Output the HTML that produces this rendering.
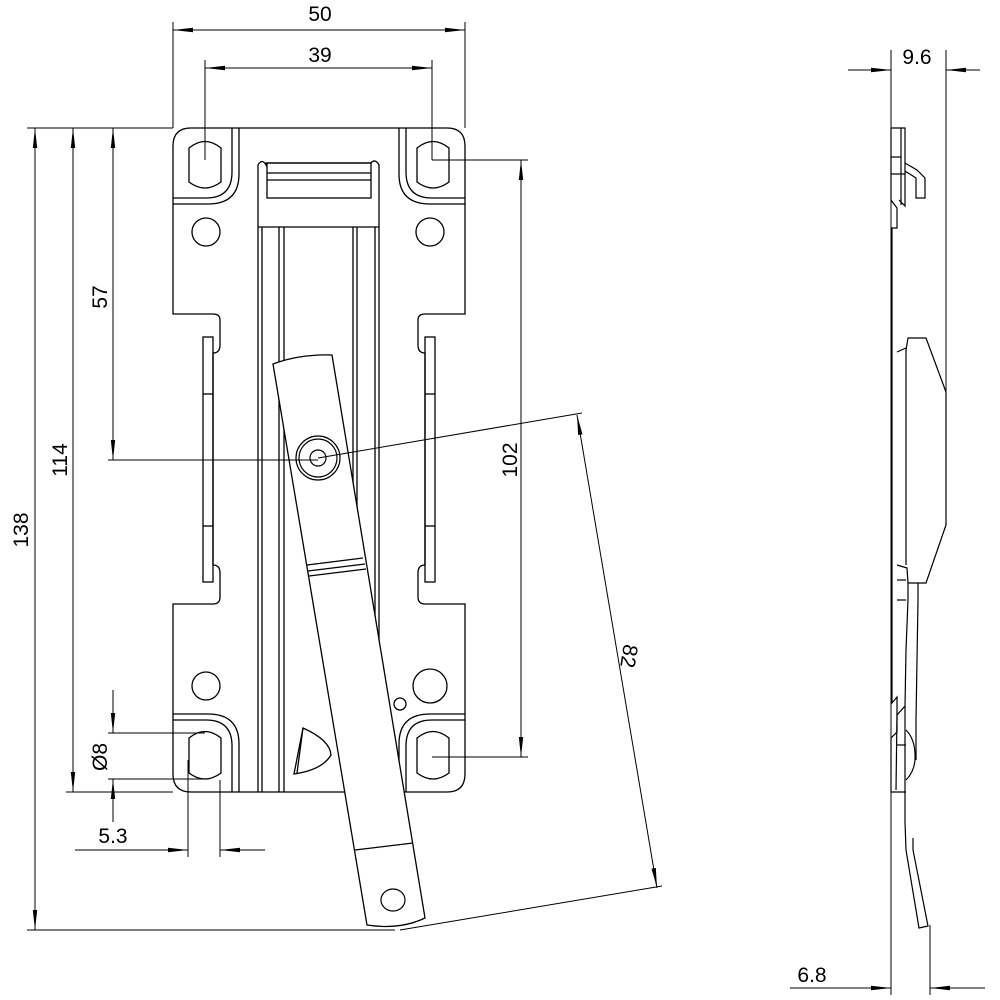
<!DOCTYPE html>
<html><head><style>html,body{margin:0;padding:0;background:#fff}svg{display:block}</style></head><body>
<svg width="1000" height="1000" viewBox="0 0 1000 1000" xmlns="http://www.w3.org/2000/svg" font-family="Liberation Sans, sans-serif">
<defs>
<marker id="a" viewBox="0 0 20 6" refX="20" refY="3" markerWidth="20" markerHeight="6" markerUnits="userSpaceOnUse" orient="auto-start-reverse"><path d="M0,0.8 L20,3 L0,5.2 Z" fill="#000"/></marker>
</defs>
<g fill="none" stroke="#000" stroke-width="1.3">
<path d="M173,146 Q173,128 191,128 L447,128 Q465,128 465,146 L465,314 L425,314 Q418,314 418,320 L418,345 Q418,353 425,353 L425,565 Q418,565 418,573 L418,597 Q418,604 425,604 L465,604 L465,774 Q465,792 447,792 L191,792 Q173,792 173,774 L173,604 L213,604 Q220,604 220,597 L220,573 Q220,565 213,565 L213,353 Q220,353 220,345 L220,320 Q220,314 213,314 L173,314 Z"/>
<rect x="203" y="337" width="10" height="245"/><line x1="203" y1="394" x2="213" y2="394"/><line x1="203" y1="526" x2="213" y2="526"/>
<rect x="425" y="337" width="10" height="245"/><line x1="425" y1="394" x2="435" y2="394"/><line x1="425" y1="526" x2="435" y2="526"/>
<path d="M173,198 L206,198 Q232,198 232,172 L232,128"/><path d="M173,204 L208,204 Q239,204 239,174 L239,128"/>
<path d="M465,198 L432,198 Q406,198 406,172 L406,128"/><path d="M465,204 L430,204 Q399,204 399,174 L399,128"/>
<path d="M173,720 L206,720 Q232,720 232,746 L232,792"/><path d="M173,714 L208,714 Q239,714 239,744 L239,792"/>
<path d="M465,720 L432,720 Q406,720 406,746 L406,792"/><path d="M465,714 L430,714 Q399,714 399,744 L399,792"/>
<path d="M189,148 Q205,135 221,148 L221,182 Q205,194 189,182 Z"/><path d="M417,148 Q433,135 449,148 L449,182 Q433,194 417,182 Z"/>
<path d="M189,738 Q205,725 221,738 L221,773 Q205,785 189,773 Z"/><path d="M417,738 Q433,725 449,738 L449,773 Q433,785 417,773 Z"/>
<circle cx="206" cy="232" r="14"/><circle cx="430" cy="232" r="14"/><circle cx="206" cy="686" r="14"/><circle cx="430" cy="686" r="17"/><circle cx="400" cy="704" r="6"/>
<path d="M258,792 L258,165 Q262,158 266,165 L266,163 L371,163 Q375,158 379,165 L379,792"/>
<line x1="258" y1="227" x2="379" y2="227"/>
<rect x="267" y="163" width="104" height="35"/><line x1="267" y1="173" x2="371" y2="173"/><line x1="267" y1="180" x2="371" y2="180"/>
<line x1="262" y1="227" x2="262" y2="792"/><line x1="279" y1="227" x2="279" y2="792"/><line x1="284" y1="227" x2="284" y2="792"/>
<line x1="353" y1="227" x2="353" y2="792"/><line x1="357" y1="227" x2="357" y2="792"/><line x1="375" y1="227" x2="375" y2="792"/>
<path d="M303,728 Q330,740 331,755 Q322,770 294,774 Z"/><line x1="303" y1="728" x2="297" y2="773"/>
</g>
<g fill="#fff" stroke="#000" stroke-width="1.3">
<path d="M273,364 Q300,354 332,355 L425,918 Q400,930 367,925 Z"/>
</g>
<g fill="none" stroke="#000" stroke-width="1.2">
<line x1="307" y1="565" x2="363" y2="558"/><line x1="308" y1="571" x2="365" y2="564"/><line x1="309" y1="576" x2="366" y2="569"/>
<line x1="355" y1="850" x2="413" y2="843"/>
<circle cx="318" cy="458" r="22"/><circle cx="318" cy="458" r="19"/><circle cx="318" cy="458" r="8"/>
<ellipse cx="393" cy="900" rx="12" ry="11"/>
</g>
<g fill="none" stroke="#000" stroke-width="1.2">
<path d="M891,128 L891,200 L897,208 L897,228 L892,228 L892,703 L897,697 L897,732 L891,738 L891,792 L906,792"/>
<path d="M891,128 L905,128 L905,206 L899,200"/><line x1="901" y1="128" x2="901" y2="205"/>
<path d="M905,163 L917,170 L925,178 L925,198 L916,198 L916,178 L905,171"/>
<line x1="891" y1="157" x2="901" y2="157"/><line x1="891" y1="174" x2="905" y2="174"/>
<path d="M906,350 L908,338 L926,338 L946,392 L946,525 L926,583 L908,583 L907,568 L897,565"/>
<line x1="906" y1="350" x2="906" y2="565"/><path d="M897,352 L906,348"/>
<line x1="897" y1="580" x2="906" y2="580"/><line x1="897" y1="600" x2="906" y2="600"/>
<path d="M908,583 L908,600 L906,650 L905,706 L897,715 L896,790"/>
<path d="M918,583 L918,600 L917,660 L916,720 L916,760"/>
<path d="M906,730 Q916,740 915,760 Q914,772 906,780"/>
<line x1="897" y1="745" x2="906" y2="745"/>
<line x1="905" y1="706" x2="905" y2="822"/>
<path d="M905,822 L906,850 L919,928 L928,926 L913,850 L913,838"/>
</g>
<g fill="none" stroke="#000" stroke-width="1">
<line x1="173" y1="22" x2="173" y2="128"/><line x1="465" y1="22" x2="465" y2="128"/>
<line x1="173" y1="30" x2="465" y2="30" marker-start="url(#a)" marker-end="url(#a)"/>
<line x1="205" y1="60" x2="205" y2="160"/><line x1="432" y1="60" x2="432" y2="160"/>
<line x1="205" y1="68" x2="432" y2="68" marker-start="url(#a)" marker-end="url(#a)"/>
<line x1="27" y1="128" x2="173" y2="128"/><line x1="27" y1="930" x2="395" y2="930"/>
<line x1="35" y1="128" x2="35" y2="930" marker-start="url(#a)" marker-end="url(#a)"/>
<line x1="66" y1="792" x2="173" y2="792"/>
<line x1="73" y1="128" x2="73" y2="792" marker-start="url(#a)" marker-end="url(#a)"/>
<line x1="113" y1="128" x2="113" y2="460" marker-start="url(#a)" marker-end="url(#a)"/>
<line x1="108" y1="460" x2="318" y2="460"/>
<line x1="432" y1="160" x2="528" y2="160"/><line x1="432" y1="757" x2="528" y2="757"/>
<line x1="521" y1="160" x2="521" y2="757" marker-start="url(#a)" marker-end="url(#a)"/>
<line x1="318" y1="458" x2="582" y2="413"/><line x1="400" y1="930" x2="662" y2="886"/>
<line x1="577" y1="415" x2="657" y2="888" marker-start="url(#a)" marker-end="url(#a)"/>
<line x1="108" y1="733" x2="205" y2="733"/><line x1="108" y1="779" x2="205" y2="779"/>
<line x1="113" y1="690" x2="113" y2="733" marker-end="url(#a)"/><line x1="113" y1="822" x2="113" y2="779" marker-end="url(#a)"/>
<line x1="188" y1="760" x2="188" y2="857"/><line x1="220" y1="780" x2="220" y2="857"/>
<line x1="75" y1="850" x2="188" y2="850" marker-end="url(#a)"/><line x1="265" y1="850" x2="220" y2="850" marker-end="url(#a)"/>
<line x1="891" y1="50" x2="891" y2="995"/><line x1="946" y1="50" x2="946" y2="392"/>
<line x1="848" y1="70" x2="891" y2="70" marker-end="url(#a)"/><line x1="980" y1="70" x2="946" y2="70" marker-end="url(#a)"/>
<line x1="930" y1="925" x2="930" y2="995"/>
<line x1="790" y1="988" x2="891" y2="988" marker-end="url(#a)"/><line x1="985" y1="988" x2="930" y2="988" marker-end="url(#a)"/>
</g>
<g font-size="21" fill="#000" text-anchor="middle">
<text x="320" y="21">50</text>
<text x="320" y="62">39</text>
<text x="917" y="64">9.6</text>
<text x="812" y="982">6.8</text>
<text x="113" y="843">5.3</text>
<text transform="translate(28,530) rotate(-90)">138</text>
<text transform="translate(67,460) rotate(-90)">114</text>
<text transform="translate(107,297) rotate(-90)">57</text>
<text transform="translate(517,460) rotate(-90)">102</text>
<text transform="translate(107,757) rotate(-90)">Ø8</text>
<text transform="translate(622,655) rotate(99)">82</text>
</g>
</svg>
</body></html>
